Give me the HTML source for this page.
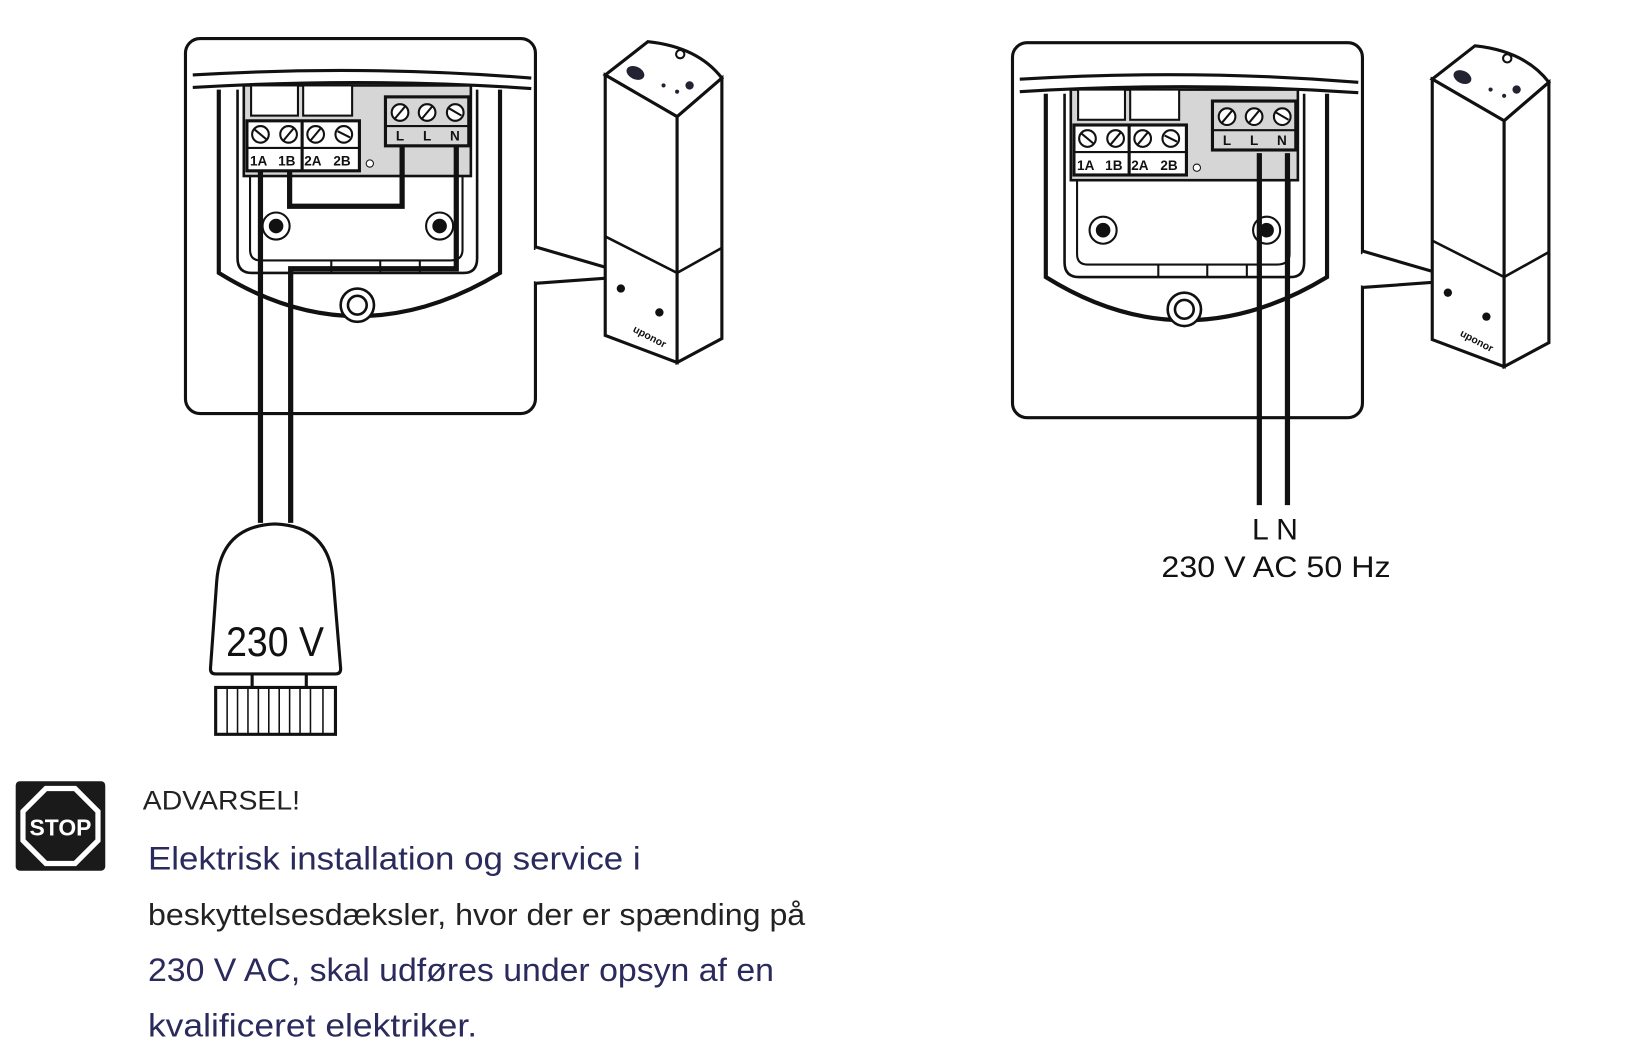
<!DOCTYPE html>
<html><head><meta charset="utf-8"><style>
html,body{margin:0;padding:0;background:#fff;width:1625px;height:1052px;overflow:hidden}
svg{display:block}
</style></head><body>
<svg width="1625" height="1052" viewBox="0 0 1560 1010" xmlns="http://www.w3.org/2000/svg" font-family="Liberation Sans, sans-serif">
<defs>
<g id="panel">
  <rect x="178" y="37" width="336" height="360" rx="14" fill="#fff" stroke="#111" stroke-width="3"/>
  <path d="M185,72 Q350,62 510,75" fill="none" stroke="#111" stroke-width="3"/>
  <path d="M185,84 Q350,74 510,85" fill="none" stroke="#111" stroke-width="3"/>
  <path d="M210,86 V262 Q343,345 480,262 V86" fill="none" stroke="#111" stroke-width="4"/>
  <path d="M228,86 V248 Q228,262 242,262 H445 Q458,262 458,248 V86" fill="none" stroke="#111" stroke-width="2.5"/>
  <path d="M240,86 V240 Q240,250 250,250 H432 Q444,250 444,240 V86" fill="none" stroke="#111" stroke-width="2"/>
  <line x1="318" y1="250" x2="318" y2="262" stroke="#111" stroke-width="2"/>
  <line x1="365" y1="250" x2="365" y2="262" stroke="#111" stroke-width="2"/>
  <line x1="403" y1="250" x2="403" y2="262" stroke="#111" stroke-width="2"/>
  <rect x="234" y="82" width="218" height="87" fill="#d6d6d6" stroke="#111" stroke-width="2.5"/>
  <rect x="241" y="82" width="45" height="29" fill="#fff" stroke="#111" stroke-width="2"/>
  <rect x="291" y="82" width="47" height="29" fill="#fff" stroke="#111" stroke-width="2"/>
  <rect x="237" y="116" width="108" height="48" fill="#fff" stroke="#111" stroke-width="3"/>
  <line x1="237" y1="142" x2="345" y2="142" stroke="#111" stroke-width="2"/>
  <line x1="290" y1="116" x2="290" y2="164" stroke="#111" stroke-width="3"/>
  <g fill="#fff" stroke="#111" stroke-width="2">
    <circle cx="250" cy="129" r="8"/><circle cx="277" cy="129" r="8"/><circle cx="303" cy="129" r="8"/><circle cx="330" cy="129" r="8"/>
    <circle cx="384" cy="108" r="8"/><circle cx="410" cy="108" r="8"/><circle cx="437" cy="108" r="8"/>
  </g>
  <g stroke="#111" stroke-width="2">
    <line x1="244" y1="124" x2="256" y2="134"/><line x1="272" y1="135" x2="282" y2="123"/><line x1="298" y1="135" x2="308" y2="123"/><line x1="324" y1="126" x2="336" y2="132"/>
    <line x1="379" y1="114" x2="389" y2="102"/><line x1="405" y1="114" x2="415" y2="102"/><line x1="431" y1="104" x2="443" y2="111"/>
  </g>
  <g font-weight="bold" font-size="13" fill="#111">
    <text x="240" y="159">1A</text><text x="267" y="159">1B</text><text x="292" y="159">2A</text><text x="320" y="159">2B</text>
    <text x="380" y="135">L</text><text x="406" y="135">L</text><text x="432" y="135">N</text>
  </g>
  <rect x="370" y="93" width="80" height="47" fill="none" stroke="#111" stroke-width="3"/>
  <line x1="370" y1="121" x2="450" y2="121" stroke="#111" stroke-width="2"/>
  <circle cx="355" cy="157" r="3.5" fill="#fff" stroke="#111" stroke-width="1"/>
  <circle cx="265" cy="217" r="13" fill="#fff" stroke="#111" stroke-width="2"/><circle cx="265" cy="217" r="7" fill="#111"/>
  <circle cx="422" cy="217" r="13" fill="#fff" stroke="#111" stroke-width="2"/><circle cx="422" cy="217" r="7" fill="#111"/>
  <circle cx="343" cy="293" r="16" fill="#fff" stroke="#111" stroke-width="2.5"/><circle cx="343" cy="293" r="9" fill="#fff" stroke="#111" stroke-width="2.5"/>
  <path d="M514,237 L610,265 L514,272" fill="#fff" stroke="#111" stroke-width="3"/>
  <rect x="511" y="240" width="5" height="30" fill="#fff"/>
  <path d="M581,72 L622,40 Q670,45 693,75 L650,112 Z" fill="#fff" stroke="#111" stroke-width="3"/>
  <path d="M581,72 L650,112 L650,348 L581,322 Z" fill="#fff" stroke="#111" stroke-width="3"/>
  <path d="M650,112 L693,75 L693,325 L650,348 Z" fill="#fff" stroke="#111" stroke-width="3"/>
  <path d="M581,227 L650,262 L693,238" fill="none" stroke="#111" stroke-width="2.5"/>
  <line x1="650" y1="262" x2="650" y2="348" stroke="#111" stroke-width="2"/>
  <circle cx="653" cy="52" r="4" fill="none" stroke="#111" stroke-width="2"/>
  <ellipse cx="610" cy="70" rx="9" ry="6" fill="#223" transform="rotate(25 610 70)"/>
  <circle cx="662" cy="82" r="4" fill="#223"/><circle cx="650" cy="88" r="2" fill="#223"/><circle cx="637" cy="82" r="2" fill="#223"/>
  <circle cx="596" cy="277" r="4" fill="#111"/><circle cx="633" cy="300" r="4" fill="#111"/>
  <text x="607" y="318" font-size="10" font-weight="bold" fill="#111" transform="rotate(28 607 318)">uponor</text>
</g>
</defs>

<use href="#panel"/>
<g fill="none" stroke="#111" stroke-width="5">
  <path d="M250,164 V502"/>
  <path d="M278,164 V198 H386 V140"/>
  <path d="M438,140 V258 H279 V502"/>
</g>
<path d="M202,642 L208,558 Q212,505 264,503 Q316,505 320,558 L327,642 Q327,647 322,647 H207 Q202,647 202,642 Z" fill="#fff" stroke="#111" stroke-width="3"/>
<line x1="242" y1="647" x2="242" y2="660" stroke="#111" stroke-width="3"/>
<line x1="294" y1="647" x2="294" y2="660" stroke="#111" stroke-width="3"/>
<rect x="207" y="660" width="115" height="45" fill="#fff" stroke="#111" stroke-width="3"/>
<g stroke="#111" stroke-width="1.5">
  <line x1="218" y1="660" x2="218" y2="705"/><line x1="228" y1="660" x2="228" y2="705"/><line x1="238" y1="660" x2="238" y2="705"/><line x1="248" y1="660" x2="248" y2="705"/><line x1="258" y1="660" x2="258" y2="705"/><line x1="268" y1="660" x2="268" y2="705"/><line x1="278" y1="660" x2="278" y2="705"/><line x1="288" y1="660" x2="288" y2="705"/><line x1="298" y1="660" x2="298" y2="705"/><line x1="310" y1="660" x2="310" y2="705"/>
</g>
<text x="217" y="630" font-size="40" textLength="94" lengthAdjust="spacingAndGlyphs" fill="#111">230 V</text>

<use href="#panel" transform="translate(794,4)"/>
<g fill="none" stroke="#111" stroke-width="5">
  <path d="M1209,147 V485"/><path d="M1236,147 V485"/>
</g>
<text x="1202" y="518" font-size="28" textLength="44" lengthAdjust="spacingAndGlyphs" fill="#111">L N</text>
<text x="1115" y="554" font-size="28" textLength="220" lengthAdjust="spacingAndGlyphs" fill="#111">230 V AC 50 Hz</text>

<rect x="15" y="750" width="86" height="86" rx="4" fill="#1a1a1a"/>
<polygon points="44,757 72,757 94,779 94,807 72,829 44,829 22,807 22,779" fill="none" stroke="#fff" stroke-width="5"/>
<text x="58" y="802" font-size="22" font-weight="bold" text-anchor="middle" fill="#fff">STOP</text>
<text x="137" y="777" font-size="26" textLength="151" lengthAdjust="spacingAndGlyphs" fill="#222">ADVARSEL!</text>
<text x="142" y="835" font-size="31" textLength="473" lengthAdjust="spacingAndGlyphs" fill="#2a2a5c">Elektrisk installation og service i</text>
<text x="142" y="888" font-size="29" textLength="631" lengthAdjust="spacingAndGlyphs" fill="#222">beskyttelsesdæksler, hvor der er spænding på</text>
<text x="142" y="942" font-size="31" textLength="601" lengthAdjust="spacingAndGlyphs" fill="#2a2a5c">230 V AC, skal udføres under opsyn af en</text>
<text x="142" y="995" font-size="31" textLength="316" lengthAdjust="spacingAndGlyphs" fill="#2a2a5c">kvalificeret elektriker.</text>
</svg>
</body></html>
